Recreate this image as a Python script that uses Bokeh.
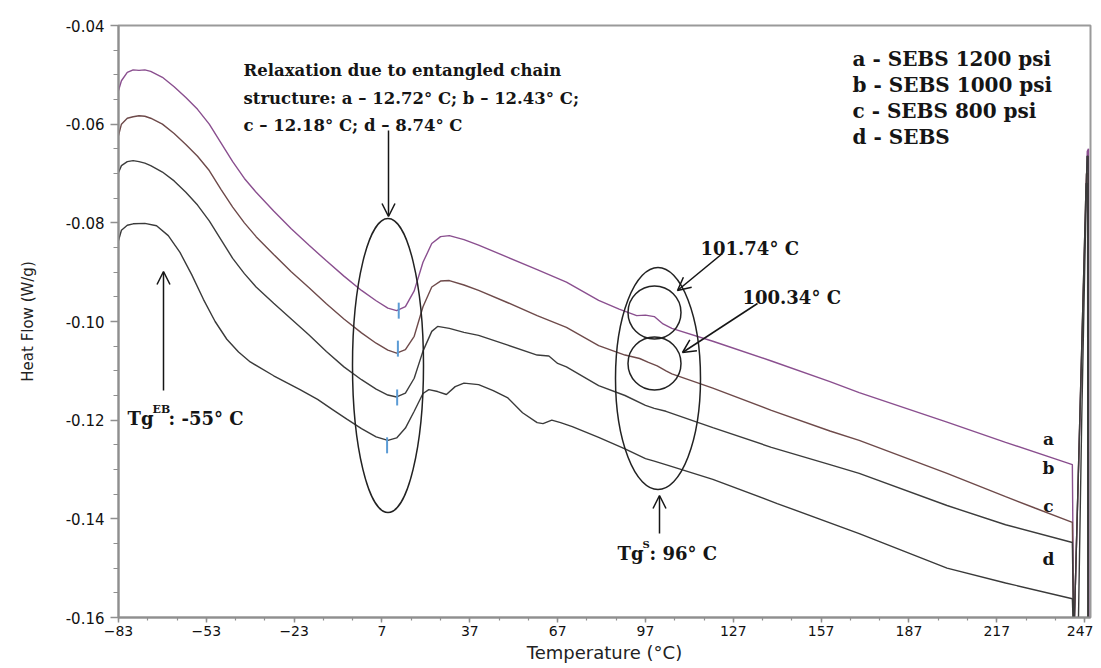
import math
from bokeh.plotting import figure
from bokeh.models import (Range1d, FixedTicker, PrintfTickFormatter, Label, Arrow,
                          OpenHead, ColumnDataSource)
from bokeh.embed import file_html
from bokeh.resources import INLINE

# ---------------- data ----------------
a_temp = [-83, -82, -80, -78, -76, -74, -72, -68, -64, -60, -56, -52, -48, -44, -40, -36, -30,
          -24, -18, -12, -6, 0, 5, 9, 12, 15, 18, 21, 24, 27, 30, 35, 40, 50, 60, 70, 81, 88,
          94, 97, 100, 103, 106, 120, 140, 160, 170, 200, 220, 242.8, 243.3, 247.9, 248.3, 248.4]
a_flow = [-0.0532, -0.0512, -0.0495, -0.0490, -0.0491, -0.0490, -0.0493, -0.0505, -0.0524,
          -0.0546, -0.0570, -0.0600, -0.0638, -0.0676, -0.0710, -0.0738, -0.0776, -0.0812,
          -0.0845, -0.0877, -0.0908, -0.0937, -0.0958, -0.0973, -0.0978, -0.0970, -0.0938,
          -0.0880, -0.0842, -0.0828, -0.0826, -0.0834, -0.0845, -0.0870, -0.0895, -0.0920,
          -0.0957, -0.0975, -0.0988, -0.0987, -0.0990, -0.1005, -0.1014, -0.1040, -0.1080,
          -0.1122, -0.1144, -0.1204, -0.1245, -0.1290, -0.1650, -0.0655, -0.0650, -0.1650]

b_temp = [-83, -82, -80, -78, -76, -74, -72, -68, -64, -60, -56, -52, -48, -44, -40, -36, -30,
          -24, -18, -12, -6, 0, 5, 9, 12, 15, 18, 21, 24, 27, 30, 35, 40, 50, 60, 70, 81, 90,
          95, 98, 101, 104, 106, 120, 140, 160, 170, 200, 220, 230, 242.8, 243.3, 247.6, 248.1,
          248.2]
b_flow = [-0.0623, -0.0600, -0.0588, -0.0585, -0.0583, -0.0584, -0.0588, -0.0600, -0.0619,
          -0.0641, -0.0665, -0.0694, -0.0732, -0.0768, -0.0800, -0.0828, -0.0864, -0.0899,
          -0.0931, -0.0964, -0.0995, -0.1023, -0.1044, -0.1058, -0.1064, -0.1057, -0.1030,
          -0.0970, -0.0930, -0.0918, -0.0917, -0.0926, -0.0937, -0.0962, -0.0988, -0.1012,
          -0.1049, -0.1068, -0.1075, -0.1083, -0.1090, -0.1100, -0.1106, -0.1135, -0.1180,
          -0.1222, -0.1241, -0.1308, -0.1355, -0.1378, -0.1407, -0.1650, -0.0700, -0.0700,
          -0.1650]

c_temp = [-83, -82, -80, -78, -76, -74, -72, -68, -64, -60, -56, -52, -48, -44, -40, -36, -30,
          -24, -18, -12, -6, 0, 5, 9, 12, 15, 18, 21, 24, 26, 30, 35, 40, 50, 60, 64, 67, 70,
          81, 90, 97, 100, 104, 120, 140, 160, 170, 200, 220, 242.8, 243.3, 247.5, 248.0, 248.1]
c_flow = [-0.0698, -0.0684, -0.0676, -0.0674, -0.0676, -0.0679, -0.0684, -0.0697, -0.0715,
          -0.0738, -0.0764, -0.0796, -0.0834, -0.0872, -0.0903, -0.0930, -0.0963, -0.0995,
          -0.1027, -0.1061, -0.1092, -0.1118, -0.1137, -0.1149, -0.1153, -0.1145, -0.1115,
          -0.1060, -0.1020, -0.1010, -0.1014, -0.1022, -0.1028, -0.1048, -0.1068, -0.1070,
          -0.1085, -0.1092, -0.1130, -0.1150, -0.1170, -0.1176, -0.1182, -0.1215, -0.1255,
          -0.1290, -0.1308, -0.1373, -0.1412, -0.1448, -0.1650, -0.0720, -0.0720, -0.1650]

d_temp = [-83, -82, -80, -78, -74, -70, -66, -62, -58, -54, -50, -46, -42, -38, -30, -21, -15,
          -10, -5, 0, 5, 9, 12, 15, 18, 21, 23, 26, 29, 32, 35, 40, 45, 50, 55, 60, 62, 65, 68,
          72, 81, 90, 97, 100, 105, 120, 142, 170, 200, 220, 242.8, 243.3, 244.9, 246.0, 247.0,
          247.8, 248.2, 248.3]
d_flow = [-0.0836, -0.0815, -0.0805, -0.0802, -0.0801, -0.0806, -0.0826, -0.0860, -0.0905,
          -0.0955, -0.1000, -0.1036, -0.1062, -0.1082, -0.1110, -0.1138, -0.1158, -0.1178,
          -0.1198, -0.1217, -0.1234, -0.1241, -0.1236, -0.1216, -0.1182, -0.1146, -0.1138,
          -0.1142, -0.1148, -0.1132, -0.1125, -0.1128, -0.1140, -0.1155, -0.1185, -0.1205,
          -0.1207, -0.1200, -0.1205, -0.1213, -0.1235, -0.1258, -0.1278, -0.1283, -0.1292,
          -0.1320, -0.1369, -0.1430, -0.1500, -0.1530, -0.1562, -0.1650, -0.1600, -0.1200,
          -0.0900, -0.0665, -0.0665, -0.1650]

series_names = ["a", "b", "c", "d"]
series_colors = ["#8a4f8f", "#6e4a4a", "#3c3c3c", "#3a3a3a"]

relax_names = ["a", "b", "c", "d"]
relax_temps = [12.72, 12.43, 12.18, 8.74]
relax_flow = [-0.0978, -0.1055, -0.1154, -0.1251]

legend_lines = ["a - SEBS 1200 psi", "b - SEBS 1000 psi", "c - SEBS 800 psi", "d - SEBS"]
relax_text = ["Relaxation due to entangled chain",
              "structure: a \u2013 12.72\u00b0 C; b \u2013 12.43\u00b0 C;",
              "c \u2013 12.18\u00b0 C; d \u2013 8.74\u00b0 C"]

x_ticks = [-83, -53, -23, 7, 37, 67, 97, 127, 157, 187, 217, 247]
x_minor = list(range(-83, 250, 10))
y_ticks = [-0.16, -0.14, -0.12, -0.10, -0.08, -0.06, -0.04]
y_minor = [round(-0.16 + 0.005 * i, 3) for i in range(25)]

X0, X1 = -83, 249
Y0, Y1 = -0.16, -0.04

# ---------------- figure ----------------
p = figure(width=1093, height=666, x_range=Range1d(X0, X1), y_range=Range1d(Y0, Y1),
           output_backend="svg", toolbar_location=None,
           min_border_left=118, min_border_right=3, min_border_top=25, min_border_bottom=49,
           background_fill_color="white", border_fill_color="white")
p.grid.visible = False
p.outline_line_color = "#9a9a9a"
p.outline_line_width = 2

# helpers to place annotations (screenshot pixel -> data)
FL, FR, FT, FB = 118, 1090, 25, 617
def px2x(px):
    return X0 + (px - FL) * (X1 - X0) / (FR - FL)
def py2y(py):
    return Y1 - (py - FT) * (Y1 - Y0) / (FB - FT)

AX = "#8f8f8f"
for ax in (p.xaxis[0], p.yaxis[0]):
    ax.axis_line_color = AX
    ax.axis_line_width = 2
    ax.major_tick_line_color = AX
    ax.minor_tick_line_color = AX
    ax.major_tick_line_width = 1.5
    ax.minor_tick_line_width = 1.2
    ax.major_tick_in = 0
    ax.minor_tick_in = 0
    ax.major_label_text_color = "#111111"
    ax.axis_label_text_color = "#222222"
    ax.axis_label_text_font_style = "normal"
    ax.major_label_text_font = "DejaVu Sans"
    ax.axis_label_text_font = "DejaVu Sans"

p.xaxis.ticker = FixedTicker(ticks=x_ticks, minor_ticks=x_minor)
p.xaxis.major_tick_out = 5
p.xaxis.minor_tick_out = 3
p.xaxis.major_label_standoff = 3
p.xaxis.major_label_text_font_size = "14px"
p.xaxis.axis_label = "Temperature (\u00b0C)"
p.xaxis.axis_label_text_font_size = "18px"
p.xaxis.axis_label_standoff = 3

p.yaxis.ticker = FixedTicker(ticks=y_ticks, minor_ticks=y_minor)
p.yaxis.formatter = PrintfTickFormatter(format="%.2f")
p.yaxis.major_tick_out = 8
p.yaxis.minor_tick_out = 5
p.yaxis.major_label_standoff = 6
p.yaxis.major_label_text_font_size = "15px"
p.yaxis.axis_label = "Heat Flow (W/g)"
p.yaxis.axis_label_text_font_size = "15px"
p.yaxis.axis_label_standoff = 26

# ---------------- curves ----------------
temps = [a_temp, b_temp, c_temp, d_temp]
flows = [a_flow, b_flow, c_flow, d_flow]
for name, t, f, col in zip(series_names, temps, flows, series_colors):
    src = ColumnDataSource(dict(t=t, f=f))
    p.line("t", "f", source=src, line_color=col, line_width=1.4)

# blue markers at relaxation minima
p.scatter(relax_temps, relax_flow, marker="dash", angle=math.pi / 2, size=16,
          line_color="#5b9bd5", line_width=2)

INK = "#151515"
SERIF = "DejaVu Serif"

# ellipses and circles
p.ellipse(x=[px2x(387.5), px2x(657.5)], y=[py2y(365), py2y(378)],
          width=[71 * (X1 - X0) / (FR - FL), 85 * (X1 - X0) / (FR - FL)],
          height=[294 * (Y1 - Y0) / (FB - FT), 222 * (Y1 - Y0) / (FB - FT)],
          fill_color=None, line_color="#222222", line_width=1.5)
p.scatter(x=[px2x(654), px2x(654)], y=[py2y(312), py2y(363)], marker="circle", size=53,
          fill_color=None, line_color="#222222", line_width=1.5)

def arrow(x0, y0, x1, y1, size=13):
    p.add_layout(Arrow(end=OpenHead(size=size, line_color=INK, line_width=1.5),
                       x_start=px2x(x0), y_start=py2y(y0), x_end=px2x(x1), y_end=py2y(y1),
                       line_color=INK, line_width=1.5))

arrow(388, 130, 388, 216)
arrow(163, 390, 163, 271)
arrow(722, 253, 677, 290)
arrow(757, 303, 682, 352)
arrow(659, 533, 659, 495)

def label(px, py, text, size="17px", xoff=0, align="left", baseline="alphabetic"):
    p.add_layout(Label(x=px2x(px), y=py2y(py), text=text, x_offset=xoff,
                       text_font=SERIF, text_font_style="bold", text_font_size=size,
                       text_color=INK, text_align=align, text_baseline=baseline))

# relaxation text
for i, line in enumerate(relax_text):
    label(243, 70 + 27.5 * i, line, size="16.5px")

# legend text
for i, line in enumerate(legend_lines):
    label(852, 58 + 26 * i, line, size="20px")

# Tg EB
label(127, 418, "Tg", size="18px")
label(127, 409, "EB", size="11px", xoff=25)
label(127, 418, ": -55\u00b0 C", size="18px", xoff=41)

# Tg S
label(617, 553, "Tg", size="18px")
label(617, 544, "S", size="10px", xoff=25)
label(617, 553, ": 96\u00b0 C", size="18px", xoff=32)

# peak temperatures
label(700, 248, "101.74\u00b0 C", size="18px")
label(742, 297, "100.34\u00b0 C", size="18px")

# curve letters
for name, py in zip(series_names, [438, 467, 505, 558]):
    label(1048, py, name, size="17px", align="center", baseline="middle")

open("out.html", "w").write(file_html(p, INLINE))
